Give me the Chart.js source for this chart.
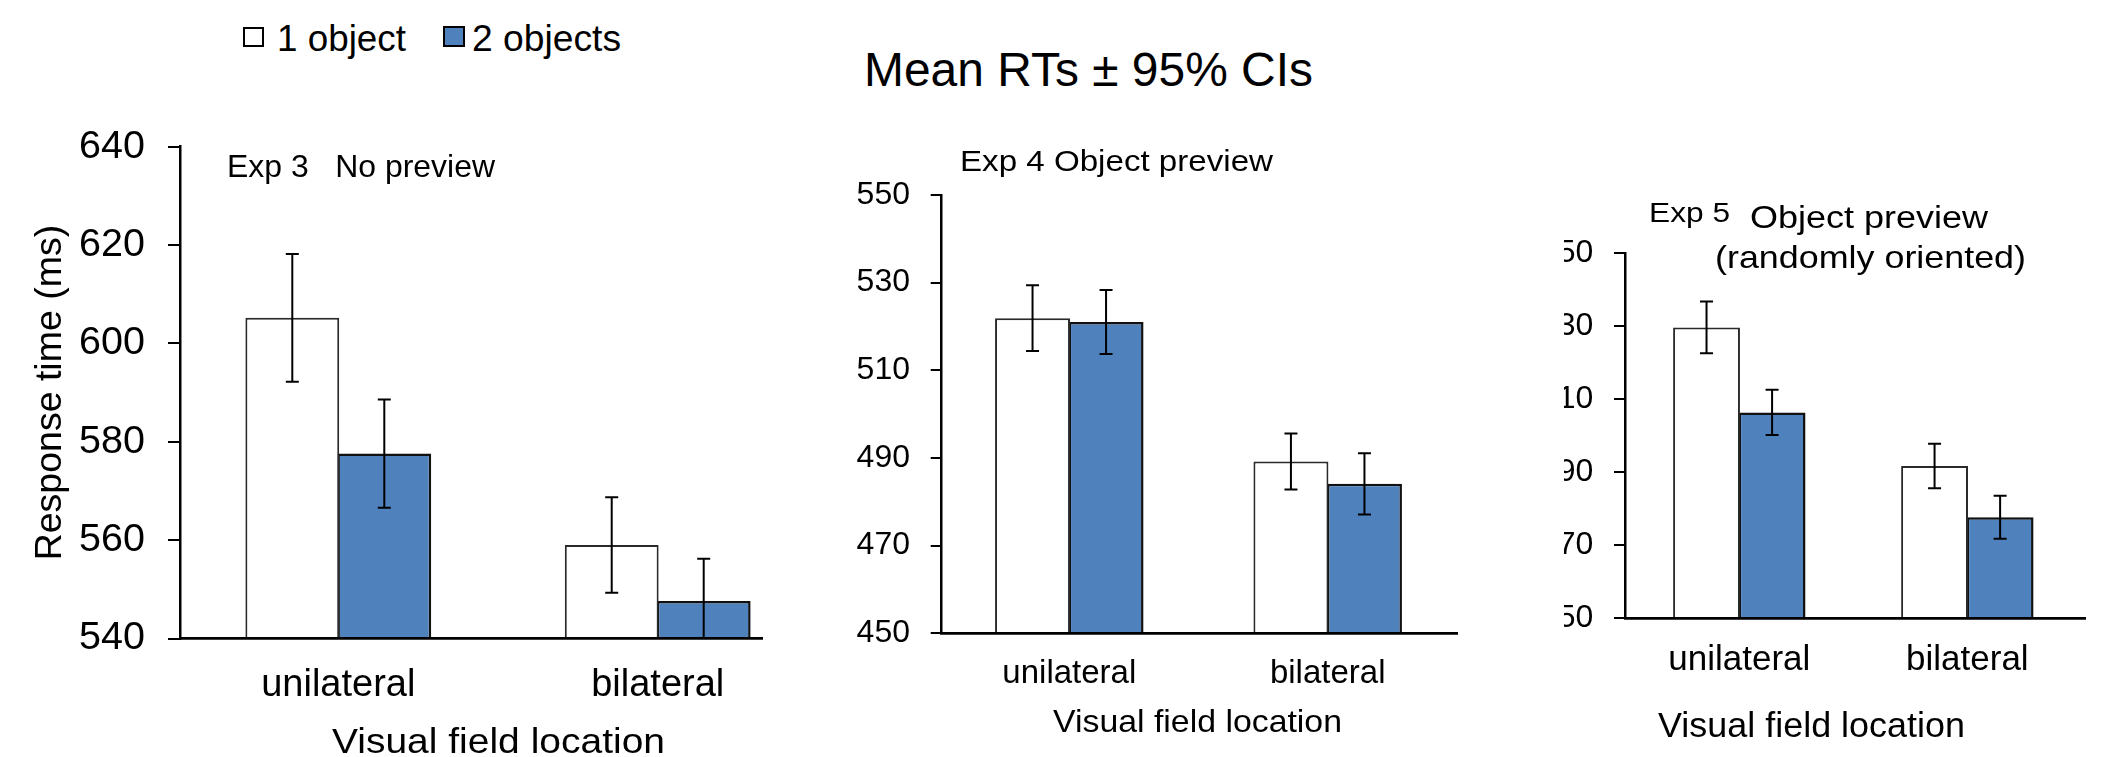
<!DOCTYPE html>
<html>
<head>
<meta charset="utf-8">
<script src="https://cdn.jsdelivr.net/npm/chart.js@4.4.1/dist/chart.umd.min.js"></script>
<style>
  html, body { margin: 0; padding: 0; background: #ffffff; }
  body { width: 2108px; height: 757px; position: relative; overflow: hidden;
         font-family: "Liberation Sans", Arial, sans-serif; }
  .t { position: absolute; white-space: pre; line-height: 1; color: #000; transform-origin: 0 0; }
  canvas { position: absolute; }
  .clip { position: absolute; overflow: hidden; }
  .lg { position: absolute; box-sizing: border-box; border: 2.5px solid #000; }
</style>
</head>
<body>
<canvas id="c1" width="790" height="657" style="left:0px;top:100px"></canvas>
<canvas id="c2" width="660" height="657" style="left:820px;top:100px"></canvas>
<div class="clip" style="left:1564px;top:100px;width:544px;height:657px">
  <canvas id="c3" width="568" height="657" style="left:-24px;top:0px"></canvas>
</div>
<script>
// ---------------- data ----------------
const categories = ['unilateral', 'bilateral'];
const seriesNames = ['1 object', '2 objects'];

const exp3One   = [605.2, 559.0];
const exp3Two   = [577.6, 547.6];
const exp3OneCI = [13.0, 9.7];
const exp3TwoCI = [11.0, 8.6];
const exp3Ticks = [540, 560, 580, 600, 620, 640];

const exp4One   = [521.9, 489.2];
const exp4Two   = [521.0, 484.1];
const exp4OneCI = [7.5, 6.4];
const exp4TwoCI = [7.3, 7.0];
const exp4Ticks = [450, 470, 490, 510, 530, 550];

const exp5One   = [529.7, 491.7];
const exp5Two   = [506.4, 477.7];
const exp5OneCI = [7.1, 6.1];
const exp5TwoCI = [6.2, 5.9];
const exp5Ticks = [450, 470, 490, 510, 530, 550];

const mainTitle = 'Mean RTs \u00b1 95% CIs';
const yTitle = 'Response time (ms)';
const xTitle = 'Visual field location';

// ---------------- styles ----------------
const FONT = '"Liberation Sans", Arial, sans-serif';
const seriesFill = ['#ffffff', '#4f81bd'];
const seriesBorder = ['#2a2a2a', '#111111'];
const seriesBorderWidth = [2, 2.5];

// error bar plugin (draws mean +/- CI through the y scale)
const errorBars = {
  id: 'errorBars',
  afterDatasetsDraw(chart, args, opts) {
    const ctx = chart.ctx, ys = chart.scales.y, a = chart.chartArea;
    ctx.save();
    ctx.beginPath();
    ctx.rect(a.left, a.top - 2, a.right - a.left, a.bottom - a.top + 2);
    ctx.clip();
    ctx.strokeStyle = '#000';
    ctx.lineWidth = opts.lineWidth;
    chart.data.datasets.forEach((ds, i) => {
      const meta = chart.getDatasetMeta(i);
      meta.data.forEach((bar, j) => {
        const m = ds.data[j].y, e = ds.errors[j];
        const x = bar.x;
        const y1 = ys.getPixelForValue(m + e), y2 = ys.getPixelForValue(m - e);
        const h = opts.capWidth / 2;
        ctx.beginPath();
        ctx.moveTo(x, y1); ctx.lineTo(x, y2);
        ctx.moveTo(x - h, y1); ctx.lineTo(x + h, y1);
        ctx.moveTo(x - h, y2); ctx.lineTo(x + h, y2);
        ctx.stroke();
      });
    });
    ctx.restore();
  }
};

function makeChart(id, c) {
  const toPts = arr => arr.map((v, i) => ({ x: i, y: v }));
  return new Chart(document.getElementById(id), {
    type: 'bar',
    data: {
      datasets: [
        { label: seriesNames[0], data: toPts(c.one), errors: c.oneCI,
          backgroundColor: seriesFill[0], borderColor: seriesBorder[0], borderWidth: seriesBorderWidth[0] },
        { label: seriesNames[1], data: toPts(c.two), errors: c.twoCI,
          backgroundColor: seriesFill[1], borderColor: seriesBorder[1], borderWidth: seriesBorderWidth[1] }
      ]
    },
    options: {
      responsive: false, animation: false, devicePixelRatio: 1,
      categoryPercentage: c.cat, barPercentage: 1.02,
      layout: { padding: { top: c.padTop, right: c.padRight, left: 0, bottom: 0 } },
      plugins: { legend: { display: false }, tooltip: { enabled: false },
                 errorBars: { capWidth: 13, lineWidth: 2 } },
      scales: {
        x: {
          type: 'linear', min: c.xmin, max: c.xmax, offset: false,
          afterBuildTicks(s) { s.ticks = categories.map((_, i) => ({ value: i })); },
          afterFit(s) { s.height = c.xHeight; },
          grid: { display: false, drawTicks: false },
          border: { display: true, color: '#000', width: 2.7, z: 1 },
          ticks: { callback: v => categories[v], font: { family: FONT, size: c.xFont },
                   color: '#000', padding: c.xPad, maxRotation: 0, autoSkip: false }
        },
        y: {
          type: 'linear', min: c.ticks[0], max: c.ticks[c.ticks.length - 1],
          afterBuildTicks(s) { s.ticks = c.ticks.map(v => ({ value: v })); },
          afterFit(s) { s.width = c.yWidth; },
          grid: { display: true, drawOnChartArea: false, drawTicks: true,
                  tickLength: c.tl, color: '#000', lineWidth: 2 },
          border: { display: true, color: '#000', width: 2.5, z: 1 },
          ticks: { font: { family: FONT, size: c.yFont }, color: '#000',
                   padding: c.yPad, autoSkip: false },
          title: c.yTitle ? { display: true, text: c.yTitle, color: '#000',
                   font: { family: FONT, size: 37.5 }, padding: { top: 27.7, bottom: 0 } }
                 : { display: false }
        }
      }
    },
    plugins: [errorBars]
  });
}

makeChart('c1', { one: exp3One, two: exp3Two, oneCI: exp3OneCI, twoCI: exp3TwoCI, ticks: exp3Ticks,
  xmin: -0.4956, xmax: 1.3287, cat: 0.576, padTop: 40, padRight: 27.3, yWidth: 180, xHeight: 118.5,
  yFont: 39.5, tl: 12, yPad: 23, xFont: 38, xPad: 23.8, yTitle: yTitle });

makeChart('c2', { one: exp4One, two: exp4Two, oneCI: exp4OneCI, twoCI: exp4TwoCI, ticks: exp4Ticks,
  xmin: -0.4938, xmax: 1.5004, cat: 0.569, padTop: 95, padRight: 23, yWidth: 121.7, xHeight: 123.7,
  yFont: 32, tl: 11, yPad: 20.7, xFont: 33, xPad: 20.5 });

makeChart('c3', { one: exp5One, two: exp5Two, oneCI: exp5OneCI, twoCI: exp5TwoCI, ticks: exp5Ticks,
  xmin: -0.5013, xmax: 1.516, cat: 0.575, padTop: 153.3, padRight: 23, yWidth: 85, xHeight: 138.7,
  yFont: 32, tl: 11, yPad: 20.7, xFont: 35, xPad: 20.6 });

// ---------------- free text (real text) ----------------
function placeText(txt, left, baseline, size, width) {
  const d = document.createElement('div');
  d.className = 't';
  d.textContent = txt;
  d.style.fontSize = size + 'px';
  d.style.left = left + 'px';
  d.style.top = (baseline - 0.8465 * size) + 'px';
  document.body.appendChild(d);
  if (width) {
    const w = d.getBoundingClientRect().width;
    d.style.transform = 'scaleX(' + (width / w) + ')';
  }
  return d;
}
function legendBox(left, top, w, h, fill) {
  const b = document.createElement('div');
  b.className = 'lg';
  b.style.left = left + 'px'; b.style.top = top + 'px';
  b.style.width = w + 'px'; b.style.height = h + 'px';
  b.style.background = fill;
  document.body.appendChild(b);
}

legendBox(243.3, 26.7, 21, 20, seriesFill[0]);
placeText(seriesNames[0], 276.7, 51.7, 37, 129);
legendBox(443.3, 25.7, 21.7, 21, seriesFill[1]);
placeText(seriesNames[1], 471.7, 51.7, 37, 149);

placeText(mainTitle, 864, 86.7, 47.5, 449);

placeText('Exp 3   No preview', 226.7, 177.3, 30.5, 268);
placeText('Exp 4 Object preview', 960, 170.7, 29.5, 313);
placeText('Exp 5', 1649.3, 222.7, 27.5, 81);
placeText('Object preview', 1750, 228.5, 31, 238);
placeText('(randomly oriented)', 1715, 268.3, 32, 311);

placeText(xTitle, 331.7, 752.7, 35, 333);
placeText(xTitle, 1053.3, 731.7, 30.5, 289);
placeText(xTitle, 1657.8, 737, 35, 307);
</script>
</body>
</html>
